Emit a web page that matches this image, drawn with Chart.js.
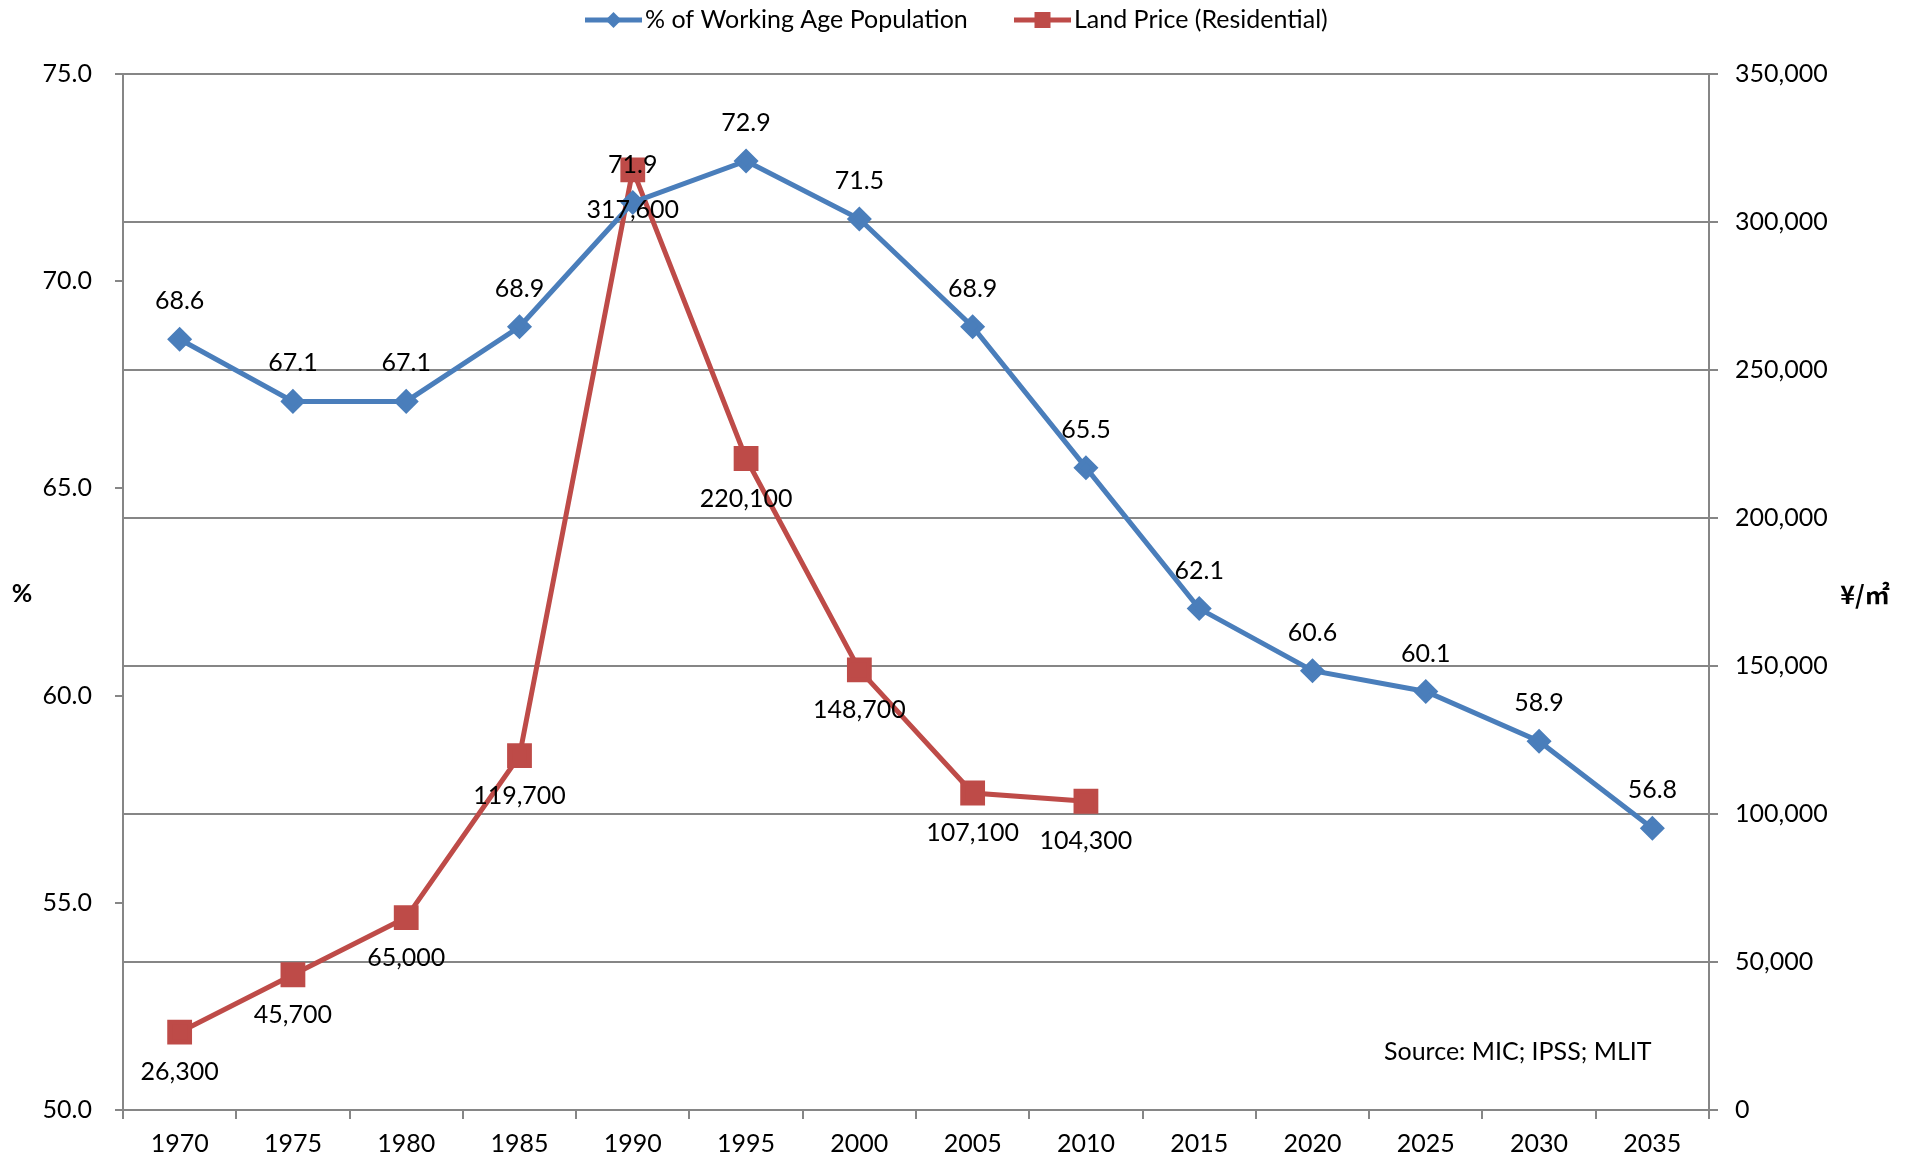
<!DOCTYPE html>
<html>
<head>
<meta charset="utf-8">
<script src="https://cdn.jsdelivr.net/npm/chart.js@4.4.1/dist/chart.umd.min.js"></script>
<style>
  html, body { margin: 0; padding: 0; background: #fff; }
  #wrap { width: 1926px; height: 1159px; position: relative; }
</style>
</head>
<body>
<div id="wrap"><canvas id="line-chart"></canvas></div>
<script>
var years = ['1970', '1975', '1980', '1985', '1990', '1995', '2000', '2005', '2010', '2015', '2020', '2025', '2030', '2035'];
var workingAgePct = [68.6, 67.1, 67.1, 68.9, 71.9, 72.9, 71.5, 68.9, 65.5, 62.1, 60.6, 60.1, 58.9, 56.8];
var landPrice = [26300, 45700, 65000, 119700, 317600, 220100, 148700, 107100, 104300, null, null, null, null, null];
var pctTicks = [50, 55, 60, 65, 70, 75];
var priceTicks = [0, 50000, 100000, 150000, 200000, 250000, 300000, 350000];

var BLUE = '#4A7EBB';
var RED = '#BE4B48';
var AXIS = '#868686';
var FONT = 'Lato';
var FS = 25;

Chart.defaults.font.family = FONT;
Chart.defaults.font.size = FS;
Chart.defaults.color = '#000';

var ctx = document.getElementById('line-chart').getContext('2d');

// point labels, blue above the marker, red below
var pointLabels = {
  id: 'pointLabels',
  afterDatasetsDraw: function(chart) {
    var c = chart.ctx;
    c.save();
    c.font = FS + 'px ' + FONT;
    c.fillStyle = '#000';
    c.textAlign = 'center';
    c.textBaseline = 'middle';
    chart.data.datasets.forEach(function(ds, i) {
      var meta = chart.getDatasetMeta(i);
      meta.data.forEach(function(pt, j) {
        var v = ds.data[j];
        if (v === null) return;
        var txt = i === 0 ? v.toFixed(1) : v.toLocaleString('en-US');
        c.fillText(txt, pt.x, pt.y + ds.labelShift);
      });
    });
    c.restore();
  }
};

// legend with line + marker, axis titles and source note
var extras = {
  id: 'extras',
  afterDraw: function(chart) {
    var c = chart.ctx;
    c.save();
    c.font = FS + 'px ' + FONT;
    c.textBaseline = 'middle';
    var starts = [585, 1014];
    var lineLen = 57, y = 20;
    chart.data.datasets.forEach(function(ds, i) {
      var x = starts[i];
      c.strokeStyle = ds.borderColor;
      c.fillStyle = ds.borderColor;
      c.lineWidth = 5;
      c.beginPath();
      c.moveTo(x, y);
      c.lineTo(x + lineLen, y);
      c.stroke();
      var mx = x + lineLen / 2;
      c.beginPath();
      if (ds.pointStyle === 'rectRot') {
        c.moveTo(mx, y - 8); c.lineTo(mx + 8, y); c.lineTo(mx, y + 8); c.lineTo(mx - 8, y);
      } else {
        c.rect(mx - 8, y - 8, 16, 16);
      }
      c.closePath();
      c.fill();
      c.fillStyle = '#000';
      c.textAlign = 'left';
      c.fillText(ds.label, x + lineLen + 3, y);
    });

    c.font = 'bold ' + FS + 'px ' + FONT;
    c.textAlign = 'center';
    c.fillText('%', 22, 594);
    c.font = 'bold ' + FS + 'px "Noto Sans CJK JP", ' + FONT;
    c.fillText('¥/㎡', 1865, 594);

    c.font = FS + 'px ' + FONT;
    c.textAlign = 'left';
    c.fillText('Source: MIC; IPSS; MLIT', 1384, 1052);
    c.restore();
  }
};

var data = {
  labels: years,
  datasets: [
    {
      label: '% of Working Age Population',
      data: workingAgePct,
      yAxisID: 'y',
      borderColor: BLUE,
      backgroundColor: BLUE,
      borderWidth: 5,
      pointStyle: 'rectRot',
      pointRadius: 9,
      pointBackgroundColor: BLUE,
      pointBorderColor: BLUE,
      tension: 0,
      labelShift: -38
    },
    {
      label: 'Land Price (Residential)',
      data: landPrice,
      yAxisID: 'y1',
      borderColor: RED,
      backgroundColor: RED,
      borderWidth: 5,
      pointStyle: 'rect',
      pointRadius: 14,
      pointBackgroundColor: RED,
      pointBorderColor: RED,
      tension: 0,
      labelShift: 40
    }
  ]
};

var options = {
  responsive: true,
  maintainAspectRatio: false,
  animation: false,
  layout: { padding: { top: 74, left: 0, right: 0, bottom: 0 } },
  plugins: {
    legend: { display: false },
    tooltip: { enabled: false }
  },
  scales: {
    x: {
      offset: true,
      grid: { offset: true, drawOnChartArea: false, color: AXIS, lineWidth: 2, tickLength: 9 },
      border: { color: AXIS, width: 2 },
      ticks: { padding: 10, maxRotation: 0, autoSkip: false },
      afterFit: function(s) { s.height = 49; }
    },
    y: {
      position: 'left',
      min: pctTicks[0],
      max: pctTicks[pctTicks.length - 1],
      ticks: { stepSize: pctTicks[1] - pctTicks[0], padding: 23, callback: function(v) { return v.toFixed(1); } },
      grid: { drawOnChartArea: false, color: AXIS, lineWidth: 2, tickLength: 8 },
      border: { color: AXIS, width: 2 },
      afterFit: function(s) { s.width = 123; }
    },
    y1: {
      position: 'right',
      min: priceTicks[0],
      max: priceTicks[priceTicks.length - 1],
      ticks: { stepSize: priceTicks[1] - priceTicks[0], padding: 17, callback: function(v) { return v.toLocaleString('en-US'); } },
      grid: { drawOnChartArea: true, color: AXIS, lineWidth: 2, tickLength: 9 },
      border: { color: AXIS, width: 2 },
      afterFit: function(s) { s.width = 217; }
    }
  }
};

var lineChart = new Chart(ctx, {
  type: 'line',
  data: data,
  options: options,
  plugins: [pointLabels, extras]
});
</script>
</body>
</html>
